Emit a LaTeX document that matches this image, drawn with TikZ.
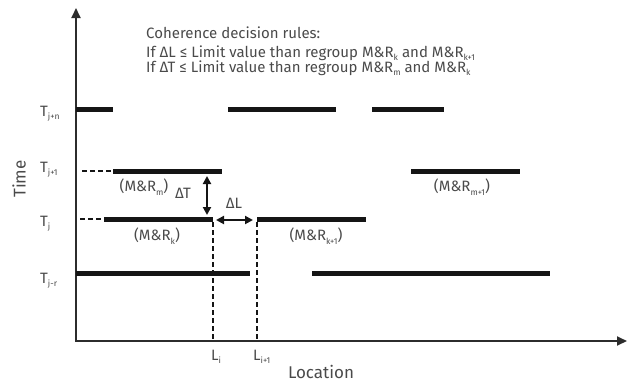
\documentclass[tikz,border=0pt]{standalone}
\usepackage{fontspec}
\setmainfont{Fira Sans}
\usetikzlibrary{arrows.meta}
\definecolor{txt}{HTML}{4A4A4A}
\definecolor{ink}{HTML}{151515}
\newcommand{\lsub}[1]{\raisebox{-0.5ex}{\fontsize{8.5}{8.5}\selectfont #1}}
\begin{document}
\begin{tikzpicture}[x=1pt,y=-1pt,
  bar/.style={draw=ink, line width=5pt},
  axisline/.style={draw=ink!90, line width=1.8pt, -{Triangle[length=10pt,width=9pt]}},
  dsh/.style={draw=ink, line width=1.5pt, dash pattern=on 5pt off 3pt},
  dbl/.style={draw=ink, line width=2pt, {Triangle[length=8pt,width=8pt]}-{Triangle[length=8pt,width=8pt]}},
  lbl/.style={text=txt, font=\fontsize{15}{17}\selectfont, inner sep=0pt},
  big/.style={text=txt, font=\fontsize{17}{19}\selectfont, inner sep=0pt},
  rule/.style={text=txt, font=\fontsize{15}{17}\selectfont, inner sep=0pt, anchor=base west}
]
\useasboundingbox (0,0) rectangle (627,384);
% axes
\coordinate (O) at (76,341);
\coordinate (ytop) at (76,8);
\coordinate (xend) at (627,341);
\draw[axisline] ([yshift=-0.9pt]O) -- (ytop);
\draw[axisline] ([xshift=-0.9pt]O) -- (xend);
% rules text
\node[rule] (r1) at (146,38) {Coherence decision rules:};
\node[rule] (r2) at (146,57) {If ΔL ≤ Limit value than regroup M\&R\lsub{k} and M\&R\lsub{k+1}};
\node[rule] (r3) at (146,72) {If ΔT ≤ Limit value than regroup M\&R\lsub{m} and M\&R\lsub{k}};
% axis titles
\node[big, rotate=90] (time) at (19,179) {Time};
\node[big, anchor=base] (loc) at (321,378) {Location};
% time labels
\node[lbl, anchor=base west] (tjn) at (40,116) {T\lsub{j+n}};
\node[lbl, anchor=base west] (tj1) at (40,172) {T\lsub{j+1}};
\node[lbl, anchor=base west] (tj) at (40,226) {T\lsub{j}};
\node[lbl, anchor=base west] (tjr) at (40,283) {T\lsub{j-r}};
% location labels
\node[lbl, anchor=base west] (li) at (211,360) {L\lsub{i}};
\node[lbl, anchor=base west] (li1) at (253,360) {L\lsub{i+1}};
% bars T_{j+n}
\draw[bar] (76,109) -- (113,109);
\draw[bar] (228,109) -- (336,109);
\draw[bar] (372,109) -- (444,109);
% bars T_{j+1}
\draw[dsh] (82,171) -- (112,171);
\coordinate (m0) at (113,171);
\coordinate (m1) at (222,171);
\draw[bar] (m0) -- (m1);
\draw[bar] (411,171) -- (520,171);
% bars T_j
\draw[dsh] (80,219) -- (104,219);
\coordinate (k0) at (104,219);
\coordinate (k1) at (213,219);
\coordinate (kk0) at (257,219);
\coordinate (kk1) at (366,219);
\draw[bar] (k0) -- (k1);
\draw[bar] (kk0) -- (kk1);
% bars T_{j-r}
\draw[bar] (76,273) -- (250,273);
\draw[bar] (312,273) -- (550,273);
% vertical dashed
\coordinate (k1b) at (213,341);
\coordinate (kk0b) at (257,341);
\draw[dsh] ([yshift=-3pt]k1) -- (k1b);
\draw[dsh] ([yshift=-3pt]kk0) -- (kk0b);
% delta arrows
\coordinate (dt0) at (207,176);
\coordinate (dt1) at (207,215);
\draw[dbl] (dt0) -- (dt1);
\coordinate (dl0) at (216,220);
\coordinate (dl1) at (253,220);
\draw[dbl] (dl0) -- (dl1);
\node[lbl] (dT) at (183,193) {ΔT};
\node[lbl] (dL) at (234,203) {ΔL};
% M&R labels
\node[lbl] (mrm) at (144,187) {(M\&R\lsub{m})};
\node[lbl] (mrk) at (157,236) {(M\&R\lsub{k})};
\node[lbl] (mrk1) at (316,236) {(M\&R\lsub{k+1})};
\node[lbl] (mrm1) at (462,187) {(M\&R\lsub{m+1})};
\end{tikzpicture}
\end{document}
